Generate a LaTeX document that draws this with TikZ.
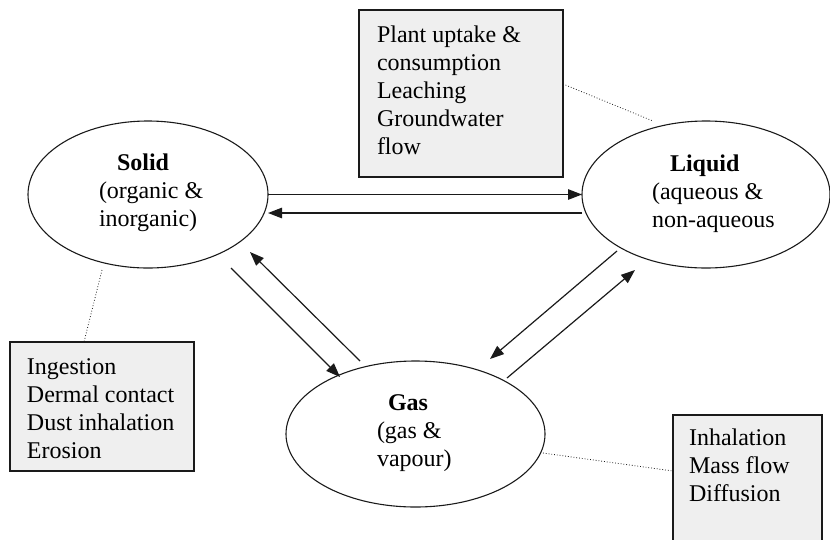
\documentclass[tikz,border=0pt]{standalone}
\usepackage{fontspec}
\setmainfont{Liberation Serif}
\usetikzlibrary{arrows.meta,shapes.geometric}
\definecolor{boxgray}{HTML}{EFEFEF}
\definecolor{ink}{HTML}{1A1A1A}
\begin{document}
\begin{tikzpicture}[x=1pt,y=-1pt,
  phase/.style={draw=ink, ellipse, line width=1.1pt, inner sep=0pt, outer sep=0pt},
  infobox/.style={draw=ink, fill=boxgray, line width=1.1pt, inner sep=0pt, outer sep=0pt, anchor=north west},
  txt/.style={font=\fontsize{24}{28}\selectfont, align=left, inner sep=0pt, outer sep=0pt, anchor=north west, text=black},
  flow/.style={draw=ink, line width=1.2pt, -{Triangle[length=14pt,width=10.5pt]}},
  link/.style={draw=ink, line width=0.8pt, dotted}]
\useasboundingbox (0,0) rectangle (830,539);
\clip (0,0) rectangle (830,539);

% phases
\node[phase, minimum width=240pt, minimum height=147pt] (solid) at (148,194.5) {};
\node[phase, minimum width=248pt, minimum height=147pt] (liquid) at (706,194.5) {};
\node[phase, minimum width=259pt, minimum height=146pt] (gas) at (415.5,434) {};

\node[txt] (solidtxt) at (99,150) {\rule{0pt}{20pt}\hspace*{18pt}\textbf{Solid}\\(organic \&\\inorganic)};
\node[txt] (liquidtxt) at (652,151) {\rule{0pt}{20pt}\hspace*{18pt}\textbf{Liquid}\\(aqueous \&\\non-aqueous};
\node[txt] (gastxt) at (377,390) {\rule{0pt}{20pt}\hspace*{11pt}\textbf{Gas}\\(gas \&\\vapour)};

% info boxes
\node[infobox, minimum width=204pt, minimum height=167pt] (plantbox) at (359,10) {};
\node[txt] (planttxt) at (377,22) {\rule{0pt}{20pt}Plant uptake \&\\consumption\\Leaching\\Groundwater\\flow};
\node[infobox, minimum width=184pt, minimum height=129pt] (ingbox) at (10,342) {};
\node[txt] (ingtxt) at (27,354) {\rule{0pt}{20pt}Ingestion\\Dermal contact\\Dust inhalation\\Erosion};
\node[infobox, minimum width=149pt, minimum height=140pt] (inhbox) at (673,415) {};
\node[txt] (inhtxt) at (689,425) {\rule{0pt}{20pt}Inhalation\\Mass flow\\Diffusion};

% transfers
\draw[flow] (solid.east) -- (liquid.west);
\draw[flow] ([shift={(-124,18.5)}]liquid.center) -- ([shift={(120,18.5)}]solid.center);
\draw[flow] ([shift={(83,73.5)}]solid.center) -- ([shift={(-75.5,-57)}]gas.center);
\draw[flow] ([shift={(-55.5,-73)}]gas.center) -- ([shift={(102,57.5)}]solid.center);
\draw[flow] ([shift={(-89,56.5)}]liquid.center) -- ([shift={(74.5,-75)}]gas.center);
\draw[flow] ([shift={(91.5,-56)}]gas.center) -- ([shift={(-71,75.5)}]liquid.center);

% dotted links
\draw[link] ([shift={(0,74)}]plantbox.north east) -- ([shift={(-53,-73.5)}]liquid.center);
\draw[link] ([shift={(-46,75.5)}]solid.center) -- ([shift={(74,0)}]ingbox.north west);
\draw[link] ([shift={(127.5,19)}]gas.center) -- ([shift={(0,56)}]inhbox.north west);
\end{tikzpicture}
\end{document}
